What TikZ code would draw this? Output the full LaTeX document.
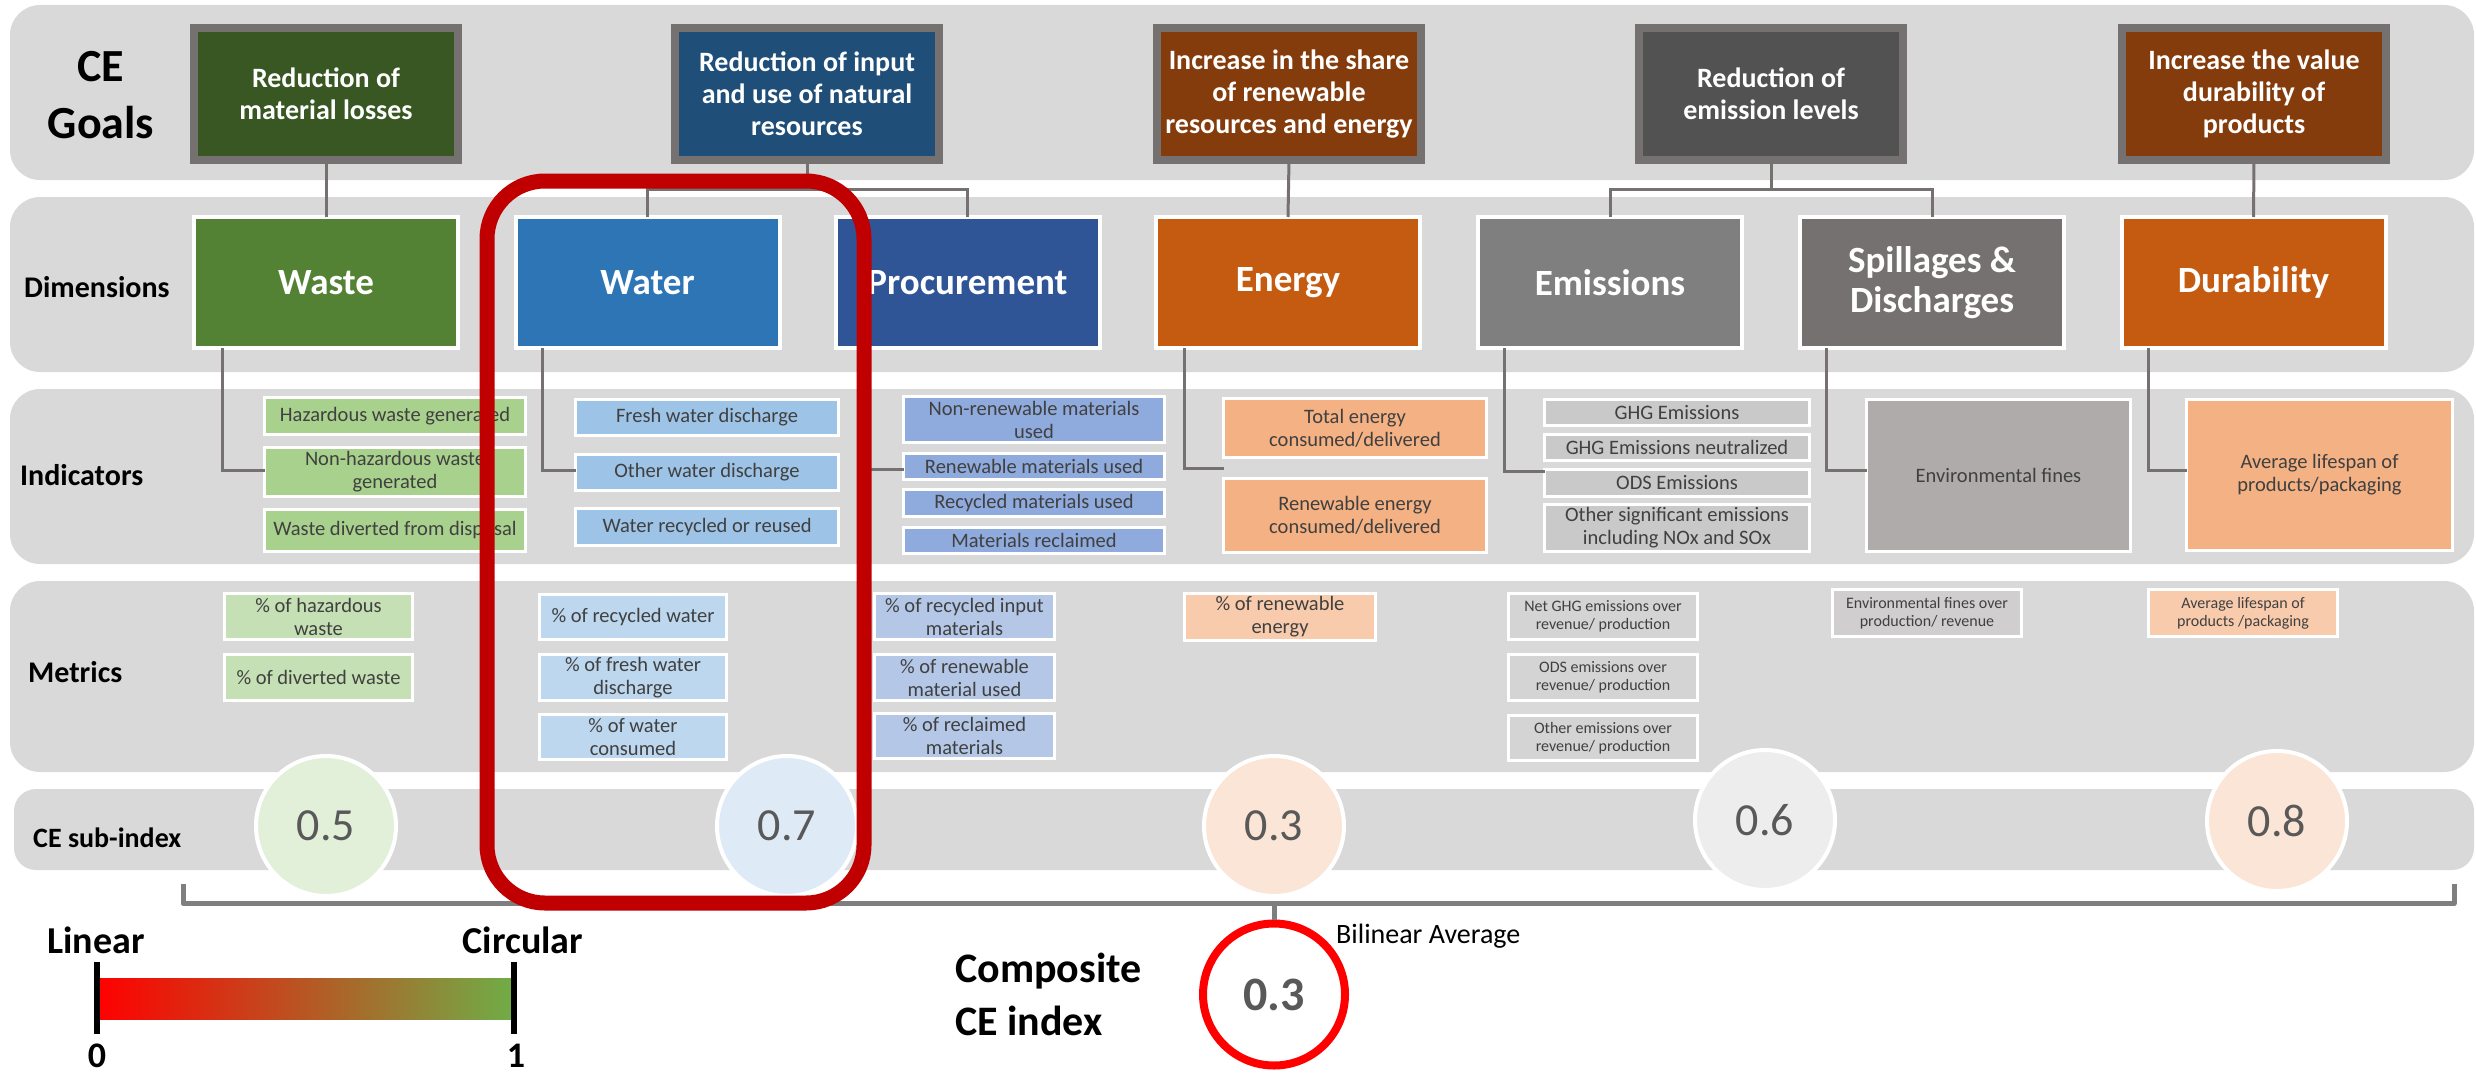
\documentclass[tikz,border=0pt]{standalone}
\usepackage{fontspec}
\setmainfont{Carlito}
\usetikzlibrary{calc}

\definecolor{bandc}{HTML}{D9D9D9}
\definecolor{goalframe}{HTML}{767171}
\definecolor{gA}{HTML}{385723}
\definecolor{gB}{HTML}{1F4E79}
\definecolor{gC}{HTML}{843C0C}
\definecolor{gD}{HTML}{525252}
\definecolor{dWaste}{HTML}{548235}
\definecolor{dWater}{HTML}{2E75B6}
\definecolor{dProc}{HTML}{2F5597}
\definecolor{dEnergy}{HTML}{C55A11}
\definecolor{dEmis}{HTML}{7F7F7F}
\definecolor{dSpill}{HTML}{767171}
\definecolor{iWaste}{HTML}{A9D18E}
\definecolor{iWater}{HTML}{9DC3E6}
\definecolor{iProc}{HTML}{8FAADC}
\definecolor{iEnergy}{HTML}{F4B183}
\definecolor{iEmis}{HTML}{C9C9C9}
\definecolor{iSpill}{HTML}{AFABAB}
\definecolor{mWaste}{HTML}{C5E0B4}
\definecolor{mWater}{HTML}{BDD7EE}
\definecolor{mProc}{HTML}{B4C7E7}
\definecolor{mEnergy}{HTML}{F8CBAD}
\definecolor{mEmis}{HTML}{D4D4D4}
\definecolor{mSpill}{HTML}{D0CECE}
\definecolor{cWaste}{HTML}{E2F0D9}
\definecolor{cWater}{HTML}{DEEBF7}
\definecolor{cEnergy}{HTML}{FBE5D6}
\definecolor{cEmis}{HTML}{EDEDED}
\definecolor{txtc}{HTML}{404040}
\definecolor{numc}{HTML}{595959}
\definecolor{connc}{HTML}{767171}
\definecolor{brackc}{HTML}{7F7F7F}
\definecolor{hlc}{HTML}{C00000}
\definecolor{scOrange}{HTML}{C25A14}
\definecolor{scGreen}{HTML}{70AD47}

\newcommand{\fsz}[2]{\fontsize{#1}{#2}\selectfont}

\begin{document}
\begin{tikzpicture}[x=1pt,y=-1pt,
  band/.style={fill=bandc,draw=none,rounded corners=30},
  goalbox/.style={draw=goalframe,line width=8,minimum width=264,minimum height=132,
    inner sep=0,outer sep=0,text=white,font=\fsz{28}{32}\bfseries,align=center},
  dimbox/.style={draw=white,line width=4,minimum width=264,minimum height=131,
    inner sep=0,outer sep=0,text=white,font=\fsz{37}{40}\bfseries,align=center},
  ind/.style={draw=white,line width=3,inner sep=0,outer sep=0,text=txtc,
    font=\fsz{20.5}{23},align=center},
  met/.style={ind},
  metsm/.style={ind,font=\fsz{16}{18}},
  conn/.style={draw=connc,line width=3},
  rowlab/.style={font=\fsz{30}{34}\bfseries,anchor=base west,inner sep=0},
  subidx/.style={circle,draw=white,line width=4,minimum size=140,inner sep=0,
    font=\fsz{46}{46},text=numc},
  brack/.style={draw=brackc,line width=5,line join=round}]

\useasboundingbox (0,0) rectangle (2476,1073);

% background bands
\fill[band] (10,5) rectangle (2474,180);
\fill[band] (10,197) rectangle (2474,372);
\fill[band] (10,389) rectangle (2474,564);
\fill[band] (10,581) rectangle (2474,772);
\fill[band,rounded corners=22] (14,789) rectangle (2474,870);

% row labels
\node[font=\fsz{46}{57}\bfseries,align=center,inner sep=0] (labGoals) at (101,95) {CE\\Goals};
\node[rowlab] (labDim) at (24,297) {Dimensions};
\node[rowlab] (labInd) at (20,485) {Indicators};
\node[rowlab] (labMet) at (28,682) {Metrics};
\node[rowlab,font=\fsz{28}{32}\bfseries] (labSub) at (33,847) {CE sub-index};

% goals
\node[goalbox,fill=gA] (g1) at (326,94) {Reduction of\\material losses};
\node[goalbox,fill=gB] (g2) at (807,94) {Reduction of input\\and use of natural\\resources};
\node[goalbox,fill=gC] (g3) at (1289,94) {Increase in the share\\of renewable\\resources and energy};
\node[goalbox,fill=gD] (g4) at (1771,94) {Reduction of\\emission levels};
\node[goalbox,fill=gC] (g5) at (2254,94) {Increase the value\\durability of\\products};

% dimensions
\node[dimbox,fill=dWaste] (dwaste) at (326,282.5) {Waste};
\node[dimbox,fill=dWater] (dwater) at (647.5,282.5) {Water};
\node[dimbox,fill=dProc] (dproc) at (967.5,282.5) {Procurement};
\node[dimbox,fill=dEnergy] (denergy) at (1288,282.5) {Energy};
\node[dimbox,fill=dEmis] (demis) at (1610,282.5) {Emissions};
\node[dimbox,fill=dSpill] (dspill) at (1932,282.5) {Spillages \&\\Discharges};
\node[dimbox,fill=dEnergy] (ddura) at (2253.5,282.5) {Durability};

% goal -> dimension connectors
\coordinate (f2) at (807,189);
\coordinate (f4) at (1771,189);
\draw[conn] (g1.south) -- (dwaste.north);
\draw[conn] (g2.south) -- (f2);
\draw[conn] (dwater.north) |- (f2) -| (dproc.north);
\draw[conn] (g3.south) -- (denergy.north);
\draw[conn] (g4.south) -- (f4);
\draw[conn] (demis.north) |- (f4) -| (dspill.north);
\draw[conn] (g5.south) -- (ddura.north);

% indicators
\node[ind,fill=iWaste,minimum width=261,minimum height=37] (wi1) at (395,416) {Hazardous waste generated};
\node[ind,fill=iWaste,minimum width=261,minimum height=49] (wi2) at (395,472) {Non-hazardous waste\\generated};
\node[ind,fill=iWaste,minimum width=261,minimum height=42] (wi3) at (395,530.5) {Waste diverted from disposal};

\node[ind,fill=iWater,minimum width=263,minimum height=36] (ai1) at (707,417.5) {Fresh water discharge};
\node[ind,fill=iWater,minimum width=263,minimum height=36] (ai2) at (707,472.5) {Other water discharge};
\node[ind,fill=iWater,minimum width=263,minimum height=37] (ai3) at (707,527) {Water recycled or reused};

\node[ind,fill=iProc,minimum width=261,minimum height=46] (pi1) at (1034,419.5) {Non-renewable materials\\used};
\node[ind,fill=iProc,minimum width=261,minimum height=26] (pi2) at (1034,466.5) {Renewable materials used};
\node[ind,fill=iProc,minimum width=261,minimum height=27] (pi3) at (1034,503) {Recycled materials used};
\node[ind,fill=iProc,minimum width=261,minimum height=26] (pi4) at (1034,540.5) {Materials reclaimed};

\node[ind,fill=iEnergy,minimum width=263,minimum height=59] (ei1) at (1355,428) {Total energy\\consumed/delivered};
\node[ind,fill=iEnergy,minimum width=263,minimum height=74] (ei2) at (1355,515.5) {Renewable energy\\consumed/delivered};

\node[ind,fill=iEmis,minimum width=265,minimum height=26] (mi1) at (1677,412.5) {GHG Emissions};
\node[ind,fill=iEmis,minimum width=265,minimum height=26] (mi2) at (1677,447.5) {GHG Emissions neutralized};
\node[ind,fill=iEmis,minimum width=265,minimum height=27] (mi3) at (1677,483) {ODS Emissions};
\node[ind,fill=iEmis,minimum width=265,minimum height=47] (mi4) at (1677,528) {Other significant emissions\\including NOx and SOx};

\node[ind,fill=iSpill,minimum width=264,minimum height=152] (si1) at (1998.5,475.5) {Environmental fines};
\node[ind,fill=iEnergy,minimum width=266,minimum height=151] (ui1) at (2319.5,475) {Average lifespan of\\products/packaging};

% dimension -> indicator connectors
\draw[conn] ([xshift=28]dwaste.south west) |- ([yshift=2]wi2.west);
\draw[conn] ([xshift=27]dwater.south west) |- ([yshift=2]ai2.west);
\draw[conn] ([xshift=28]dproc.south west) |- ([yshift=-3]pi2.west);
\draw[conn] ([xshift=28]denergy.south west) |- ($(ei1.south west)!0.5!(ei2.north west)$);
\draw[conn] ([xshift=26]demis.south west) |- ([yshift=-2]mi3.north west);
\draw[conn] ([xshift=26]dspill.south west) |- ([yshift=5]si1.west);
\draw[conn] ([xshift=27]ddura.south west) |- ([yshift=5]ui1.west);

% metrics
\node[met,fill=mWaste,minimum width=188,minimum height=46] (wm1) at (318.5,616.5) {\% of hazardous\\waste};
\node[met,fill=mWaste,minimum width=188,minimum height=46] (wm2) at (318.5,677.5) {\% of diverted waste};

\node[met,fill=mWater,minimum width=187,minimum height=45] (am1) at (633,617) {\% of recycled water};
\node[met,fill=mWater,minimum width=187,minimum height=46] (am2) at (633,677.5) {\% of fresh water\\discharge};
\node[met,fill=mWater,minimum width=187,minimum height=45] (am3) at (633,737) {\% of water\\consumed};

\node[met,fill=mProc,minimum width=180,minimum height=46] (pm1) at (964.5,616.5) {\% of recycled input\\materials};
\node[met,fill=mProc,minimum width=180,minimum height=46] (pm2) at (964.5,677.5) {\% of renewable\\material used};
\node[met,fill=mProc,minimum width=180,minimum height=45] (pm3) at (964.5,736) {\% of reclaimed\\materials};

\node[met,fill=mEnergy,minimum width=191,minimum height=47] (em1) at (1280,616.5) {\% of renewable\\energy};

\node[metsm,fill=mEmis,minimum width=189,minimum height=46] (mm1) at (1603,616.5) {Net GHG emissions over\\revenue/ production};
\node[metsm,fill=mEmis,minimum width=189,minimum height=46] (mm2) at (1603,677.5) {ODS emissions over\\revenue/ production};
\node[metsm,fill=mEmis,minimum width=189,minimum height=45] (mm3) at (1603,738) {Other emissions over\\revenue/ production};

\node[metsm,fill=mSpill,minimum width=189,minimum height=47] (sm1) at (1927,613) {Environmental fines over\\production/ revenue};
\node[metsm,fill=mEnergy,minimum width=189,minimum height=47] (um1) at (2243,613) {Average lifespan of\\products /packaging};

% sub-index circles
\node[subidx,fill=cWaste] (cwaste) at (326,826) {0.5};
\node[subidx,fill=cWater] (cwater) at (787,826) {0.7};
\node[subidx,fill=cEnergy] (cenergy) at (1274,826) {0.3};
\node[subidx,fill=cEmis] (cemis) at (1765,820) {0.6};
\node[subidx,fill=cEnergy] (cdura) at (2277,821) {0.8};

% aggregation bracket and composite index
\coordinate (brL) at (183,884);
\coordinate (brR) at (2454,884);
\coordinate (brM) at (1274,903.5);
\draw[brack] (brL) -- (183,903.5) -- (2454,903.5) -- (brR);
\node[circle,draw=red,line width=8,minimum size=142,inner sep=0,
  font=\fsz{48}{48}\bfseries,text=numc] (comp) at (1274,994.5) {0.3};
\draw[brack] (brM) -- (comp.north);
\node[anchor=base west,inner sep=0,font=\fsz{28}{32}] (bilin) at (1336,943) {Bilinear Average};
\node[anchor=base west,inner sep=0,font=\fsz{42}{46}\bfseries] (compA) at (955,982) {Composite};
\node[anchor=base west,inner sep=0,font=\fsz{42}{46}\bfseries] (compB) at (955,1035) {CE index};

% linear-to-circular scale
\shade[left color=red,middle color=scOrange,right color=scGreen] (97,978) rectangle (514,1019);
\draw[line width=6] (97,962) -- (97,1034);
\draw[line width=6] (514,962) -- (514,1034);
\node[anchor=base,inner sep=0,font=\fsz{38}{42}\bfseries] (linL) at (96,953) {Linear};
\node[anchor=base,inner sep=0,font=\fsz{38}{42}\bfseries] (linC) at (523,953) {Circular};
\node[anchor=base,inner sep=0,font=\fsz{36}{40}\bfseries] (lin0) at (97,1067) {0};
\node[anchor=base,inner sep=0,font=\fsz{36}{40}\bfseries] (lin1) at (516,1067) {1};

% highlighted column
\draw[hlc,line width=15,rounded corners=58] (487,181) rectangle (864,903);
\end{tikzpicture}
\end{document}
